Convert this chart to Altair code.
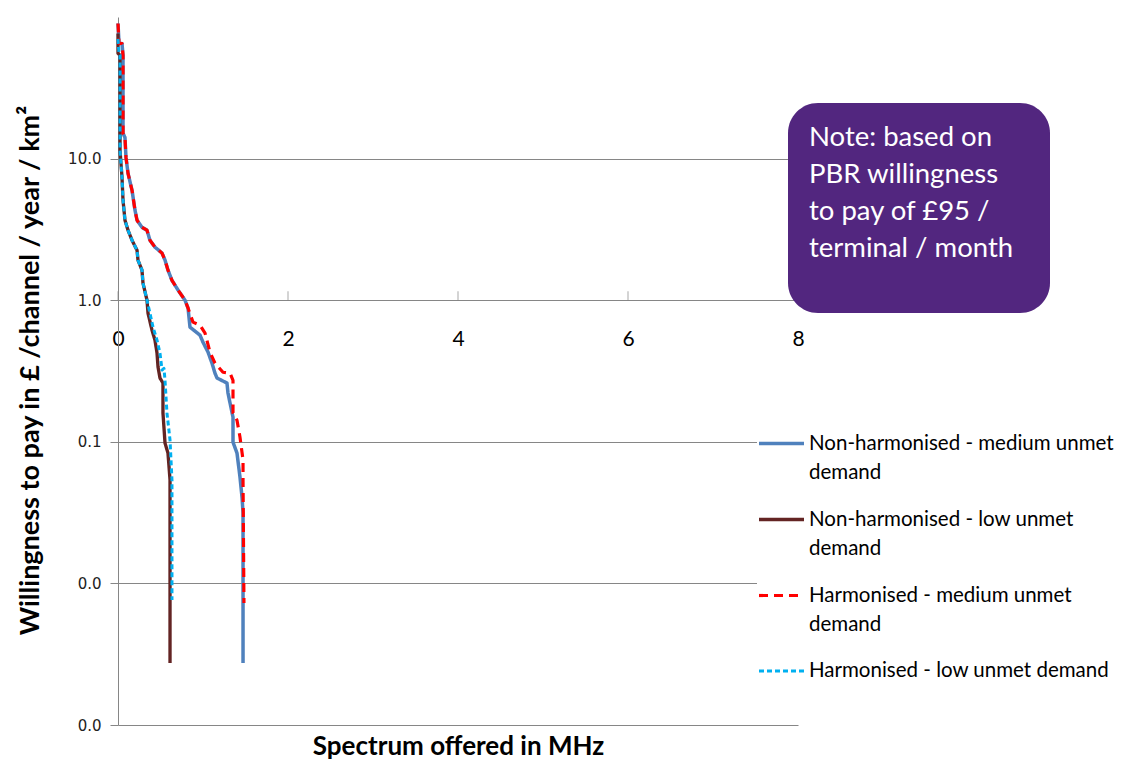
import altair as alt
import pandas as pd

series_names = [
    "Non-harmonised - medium unmet demand",
    "Non-harmonised - low unmet demand",
    "Harmonised - medium unmet demand",
    "Harmonised - low unmet demand",
]
series_colors = ["#4F81BD", "#632423", "#FF0000", "#00B0F0"]
series_dashes = [[1, 0], [1, 0], [9, 6], [5, 3]]
series_widths = [3.5, 3, 2.5, 2.5]

nh_med_x = [0, 0.012, 0.047, 0.059, 0.059, 0.082, 0.094, 0.118, 0.165, 0.2, 0.224, 0.282, 0.341, 0.376,
            0.435, 0.518, 0.553, 0.588, 0.635, 0.706, 0.788, 0.824, 0.847, 0.965, 1.0, 1.059, 1.106,
            1.141, 1.165, 1.282, 1.294, 1.318, 1.353, 1.353, 1.4, 1.435, 1.459, 1.471, 1.471]
nh_med_y = [90, 65, 65, 53.6, 15.1, 14.1, 10.2, 7.87, 5.97, 4.32, 3.67, 3.27, 3.12, 2.65,
            2.37, 2.15, 1.92, 1.63, 1.38, 1.18, 1.0, 0.88, 0.645, 0.566, 0.505, 0.43, 0.359,
            0.305, 0.282, 0.26, 0.221, 0.188, 0.149, 0.0995, 0.0832, 0.0564, 0.0407, 0.0314, 0.00274]

nh_low_x = [0, 0, 0.024, 0.024, 0.047, 0.059, 0.082, 0.118, 0.165, 0.224, 0.235, 0.282, 0.294, 0.341,
            0.353, 0.4, 0.435, 0.459, 0.471, 0.494, 0.529, 0.529, 0.553, 0.588, 0.612, 0.612]
nh_low_y = [76.6, 55.4, 53.6, 11.4, 7.38, 5.08, 3.67, 3.12, 2.65, 2.25, 1.92, 1.63, 1.32, 1.0,
            0.81, 0.614, 0.522, 0.423, 0.337, 0.282, 0.26, 0.16, 0.098, 0.0832, 0.0537, 0.00274]

h_med_x = [0, 0.012, 0.047, 0.059, 0.059, 0.082, 0.094, 0.118, 0.165, 0.2, 0.224, 0.282, 0.341, 0.376,
           0.435, 0.518, 0.553, 0.588, 0.635, 0.706, 0.788, 0.824, 0.882, 0.965, 1.024, 1.082, 1.141,
           1.235, 1.318, 1.353, 1.353, 1.4, 1.435, 1.471, 1.471, 1.482]
h_med_y = [90, 65, 65, 53.6, 15.1, 14.1, 10.2, 7.87, 5.97, 4.32, 3.67, 3.27, 3.12, 2.65,
           2.37, 2.15, 1.92, 1.63, 1.38, 1.18, 1.0, 0.88, 0.70, 0.667, 0.585, 0.43, 0.359,
           0.31, 0.305, 0.272, 0.16, 0.142, 0.108, 0.0743, 0.0537, 0.00727]

h_low_x = [0, 0.012, 0.024, 0.024, 0.047, 0.059, 0.082, 0.118, 0.165, 0.224, 0.235, 0.282, 0.294, 0.341,
           0.376, 0.412, 0.459, 0.494, 0.518, 0.541, 0.553, 0.576, 0.612, 0.635, 0.635]
h_low_y = [70, 55, 53.6, 11.4, 7.38, 5.08, 3.67, 3.12, 2.65, 2.25, 1.92, 1.63, 1.32, 1.0,
           0.81, 0.645, 0.522, 0.423, 0.321, 0.33, 0.272, 0.16, 0.103, 0.0537, 0.00764]

x_ticks = [0, 2, 4, 6, 8]
y_ticks = [0.001, 0.01, 0.1, 1, 10]
note_lines = ["Note: based on", "PBR willingness", "to pay of £95 /", "terminal / month"]

rows = []
for name, xs, ys in zip(series_names, [nh_med_x, nh_low_x, h_med_x, h_low_x],
                        [nh_med_y, nh_low_y, h_med_y, h_low_y]):
    for i, (xv, yv) in enumerate(zip(xs, ys)):
        rows.append({"series": name, "x": xv, "y": yv, "idx": i})
df = pd.DataFrame(rows)

GRID = "#868686"
FONT = "Lato"

label_expr = (
    "datum.label == 'Harmonised - low unmet demand' ? datum.label : "
    "[replace(datum.label, ' demand', ''), 'demand']"
)

legend = alt.Legend(
    title=None, orient="none", legendX=639, legendY=402,
    symbolType="stroke", symbolSize=2025, padding=0, fillColor="white",
    labelFont=FONT, labelFontSize=20.5, labelColor="black", labelLimit=500,
    labelExpr=label_expr, rowPadding=12, labelOffset=3,
)

x_enc = alt.X(
    "x:Q",
    scale=alt.Scale(domain=[0, 8], nice=False),
    axis=alt.Axis(
        values=x_ticks, format="d", offset=-425, domain=False, ticks=False, grid=False,
        labelFlush=False, labelPadding=28, labelFontSize=21, labelFont=FONT, labelColor="black",
        labelBaseline="top",
        title="Spectrum offered in MHz", titleY=446, titleX=340, titleFontSize=26,
        titleFont=FONT, titleFontWeight="bold", titleColor="black",
        titleBaseline="middle", titleAlign="center",
    ),
)
y_enc = alt.Y(
    "y:Q",
    scale=alt.Scale(type="log", domain=[0.001, 100], nice=False),
    axis=alt.Axis(
        values=y_ticks, format=".1f", grid=True, gridColor=GRID, gridWidth=1,
        domainColor=GRID, tickColor=GRID, tickSize=8, labelPadding=9,
        labelFont="DejaVu Sans", labelFontSize=15, labelColor="#222222",
        title="Willingness to pay in £ /channel / year / km²",
        titleX=-88, titleY=353, titleFontSize=27, titleFont=FONT,
        titleFontWeight="bold", titleColor="black", titleAlign="center",
        titleBaseline="middle", titleAngle=-90,
    ),
)

base = alt.Chart(df).encode(
    x=x_enc,
    y=y_enc,
    color=alt.Color("series:N", scale=alt.Scale(domain=series_names, range=series_colors), legend=legend),
    strokeDash=alt.StrokeDash("series:N", scale=alt.Scale(domain=series_names, range=series_dashes), legend=legend),
    strokeWidth=alt.StrokeWidth("series:N", scale=alt.Scale(domain=series_names, range=series_widths), legend=legend),
    order=alt.Order("idx:Q"),
)

line_layers = [
    base.mark_line(strokeCap="butt", strokeJoin="round").transform_filter(alt.datum.series == name)
    for name in series_names
]

ticks = alt.Chart(pd.DataFrame({"x": x_ticks, "y": [1] * len(x_ticks)})).mark_tick(
    orient="vertical", size=9, thickness=1, color=GRID, yOffset=-4.5
).encode(x="x:Q", y="y:Q")

note_box = alt.Chart(pd.DataFrame({"t": [1]})).mark_rect(
    cornerRadius=30, color="#52267F"
).encode(x=alt.value(670), x2=alt.value(932), y=alt.value(86), y2=alt.value(296))

note_text = alt.Chart(pd.DataFrame({"t": [1]})).mark_text(
    align="left", baseline="middle", lineHeight=37, font=FONT, fontSize=27.5, color="white"
).encode(x=alt.value(691), y=alt.value(121), text=alt.value(note_lines))

chart = alt.layer(ticks, *line_layers, note_box, note_text).properties(
    width=680, height=708,
    autosize=alt.AutoSizeParams(type="none"),
    padding={"left": 110, "top": 9, "right": 322, "bottom": 34},
).configure(
    style={"guide-label": {"lineHeight": 29}},
).configure_view(stroke="transparent")

chart.save("out.html", embed_options={"renderer": "svg", "actions": False})
